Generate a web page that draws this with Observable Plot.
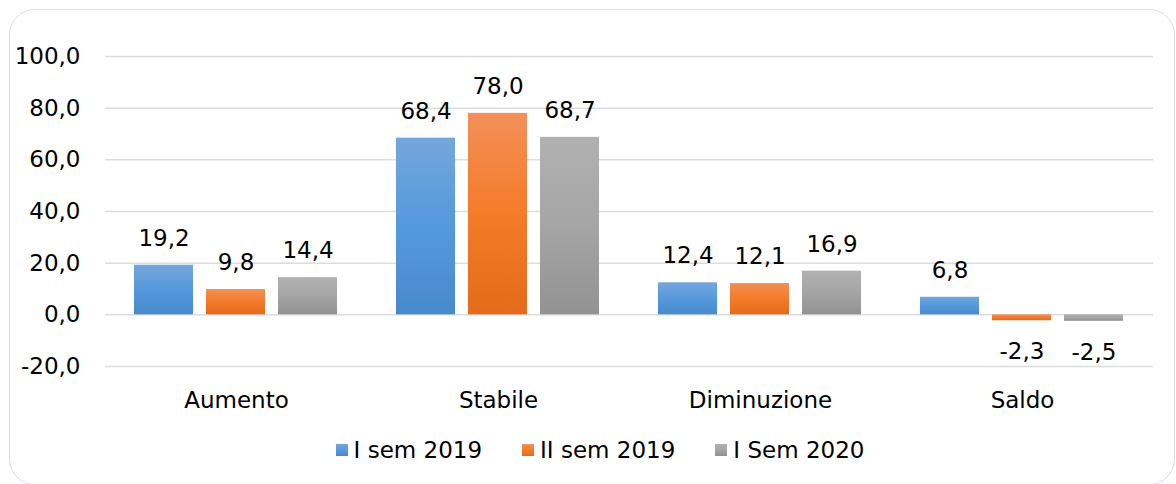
<!DOCTYPE html>
<html>
<head>
<meta charset="utf-8">
<script src="https://cdn.jsdelivr.net/npm/d3@7"></script>
<script src="https://cdn.jsdelivr.net/npm/@observablehq/plot@0.6"></script>
<style>
  html, body { margin: 0; padding: 0; background: #fff; }
  #wrap { position: relative; width: 1176px; height: 484px; overflow: hidden; font-family: "DejaVu Sans", sans-serif; color: #000; }
  #border { position: absolute; left: 9px; top: 9px; width: 1166px; height: 476px; border: 1.5px solid #d9dde3; border-radius: 26px; box-sizing: border-box; }
  #chart { position: absolute; left: 0; top: 0; }
  #legend { position: absolute; left: 0; top: 420px; width: 1176px; height: 60px; display: flex; justify-content: center; align-items: center; gap: 40px; font-size: 23px; padding-left: 24px; box-sizing: border-box; }
  .item { display: flex; align-items: center; }
  .sw { width: 12px; height: 12px; margin-right: 6px; }
</style>
</head>
<body>
<div id="wrap">
  <div id="border"></div>
  <div id="chart"></div>
  <div id="legend"></div>
</div>
<script>
const categories = ["Aumento", "Stabile", "Diminuzione", "Saldo"];
const series = ["I sem 2019", "II sem 2019", "I Sem 2020"];
const valuesISem2019 = [19.2, 68.4, 12.4, 6.8];
const valuesIISem2019 = [9.8, 78.0, 12.1, -2.3];
const valuesISem2020 = [14.4, 68.7, 16.9, -2.5];
const yTicks = [-20, 0, 20, 40, 60, 80, 100];

const gradients = [
  ["#74a7da", "#5599dd", "#4889cb"],
  ["#f29059", "#f47b2a", "#e46b19"],
  ["#b1b1b1", "#a5a5a5", "#929292"]
];

const seriesValues = [valuesISem2019, valuesIISem2019, valuesISem2020];
const data = [];
series.forEach((s, i) => {
  categories.forEach((c, j) => {
    data.push({category: c, series: s, value: seriesValues[i][j], si: i});
  });
});

const fmt = v => v.toFixed(1).replace(".", ",");
const font = "'DejaVu Sans', sans-serif";
const fs = 23;

const marks = [
  Plot.gridY(yTicks, {stroke: "#d9dde3", strokeOpacity: 1, strokeWidth: 1.5}),
  Plot.axisY(yTicks, {tickSize: 0, tickPadding: 25, tickFormat: fmt, fontSize: fs, anchor: "left"}),
  Plot.axisFx({anchor: "bottom", tickSize: 0, tickPadding: 25, fontSize: fs, label: null})
];
series.forEach((s, i) => {
  marks.push(Plot.barY(data.filter(d => d.si === i), {
    fx: "category", x: "series", y: "value", fill: `url(#grad${i})`
  }));
});
marks.push(Plot.text(data.filter(d => d.value >= 0), {
  fx: "category", x: "series", y: "value", text: d => fmt(d.value), dy: -27, fontSize: fs, fill: "#000"
}));
marks.push(Plot.text(data.filter(d => d.value < 0), {
  fx: "category", x: "series", y: "value", text: d => fmt(d.value), dy: 31, fontSize: fs, fill: "#000"
}));

const chart = Plot.plot({
  width: 1176,
  height: 420,
  marginLeft: 104,
  marginRight: 22,
  marginTop: 56,
  marginBottom: 54,
  style: {fontFamily: font, background: "transparent", color: "#000"},
  fx: {domain: categories, paddingInner: 0, paddingOuter: 0, label: null},
  x: {domain: series, paddingInner: 0.175, paddingOuter: 0.39, axis: null},
  y: {domain: [-20, 100], label: null, axis: null},
  marks
});

const defs = d3.select(chart).insert("defs", ":first-child");
gradients.forEach((g, i) => {
  const lg = defs.append("linearGradient").attr("id", `grad${i}`).attr("x1", 0).attr("y1", 0).attr("x2", 0).attr("y2", 1);
  lg.append("stop").attr("offset", "0%").attr("stop-color", g[0]);
  lg.append("stop").attr("offset", "50%").attr("stop-color", g[1]);
  lg.append("stop").attr("offset", "100%").attr("stop-color", g[2]);
});

document.getElementById("chart").appendChild(chart);

const legend = document.getElementById("legend");
series.forEach((s, i) => {
  const item = document.createElement("div");
  item.className = "item";
  const sw = document.createElement("div");
  sw.className = "sw";
  sw.style.background = `linear-gradient(${gradients[i][0]}, ${gradients[i][1]}, ${gradients[i][2]})`;
  const t = document.createElement("span");
  t.textContent = s;
  item.appendChild(sw);
  item.appendChild(t);
  legend.appendChild(item);
});
</script>
</body>
</html>
